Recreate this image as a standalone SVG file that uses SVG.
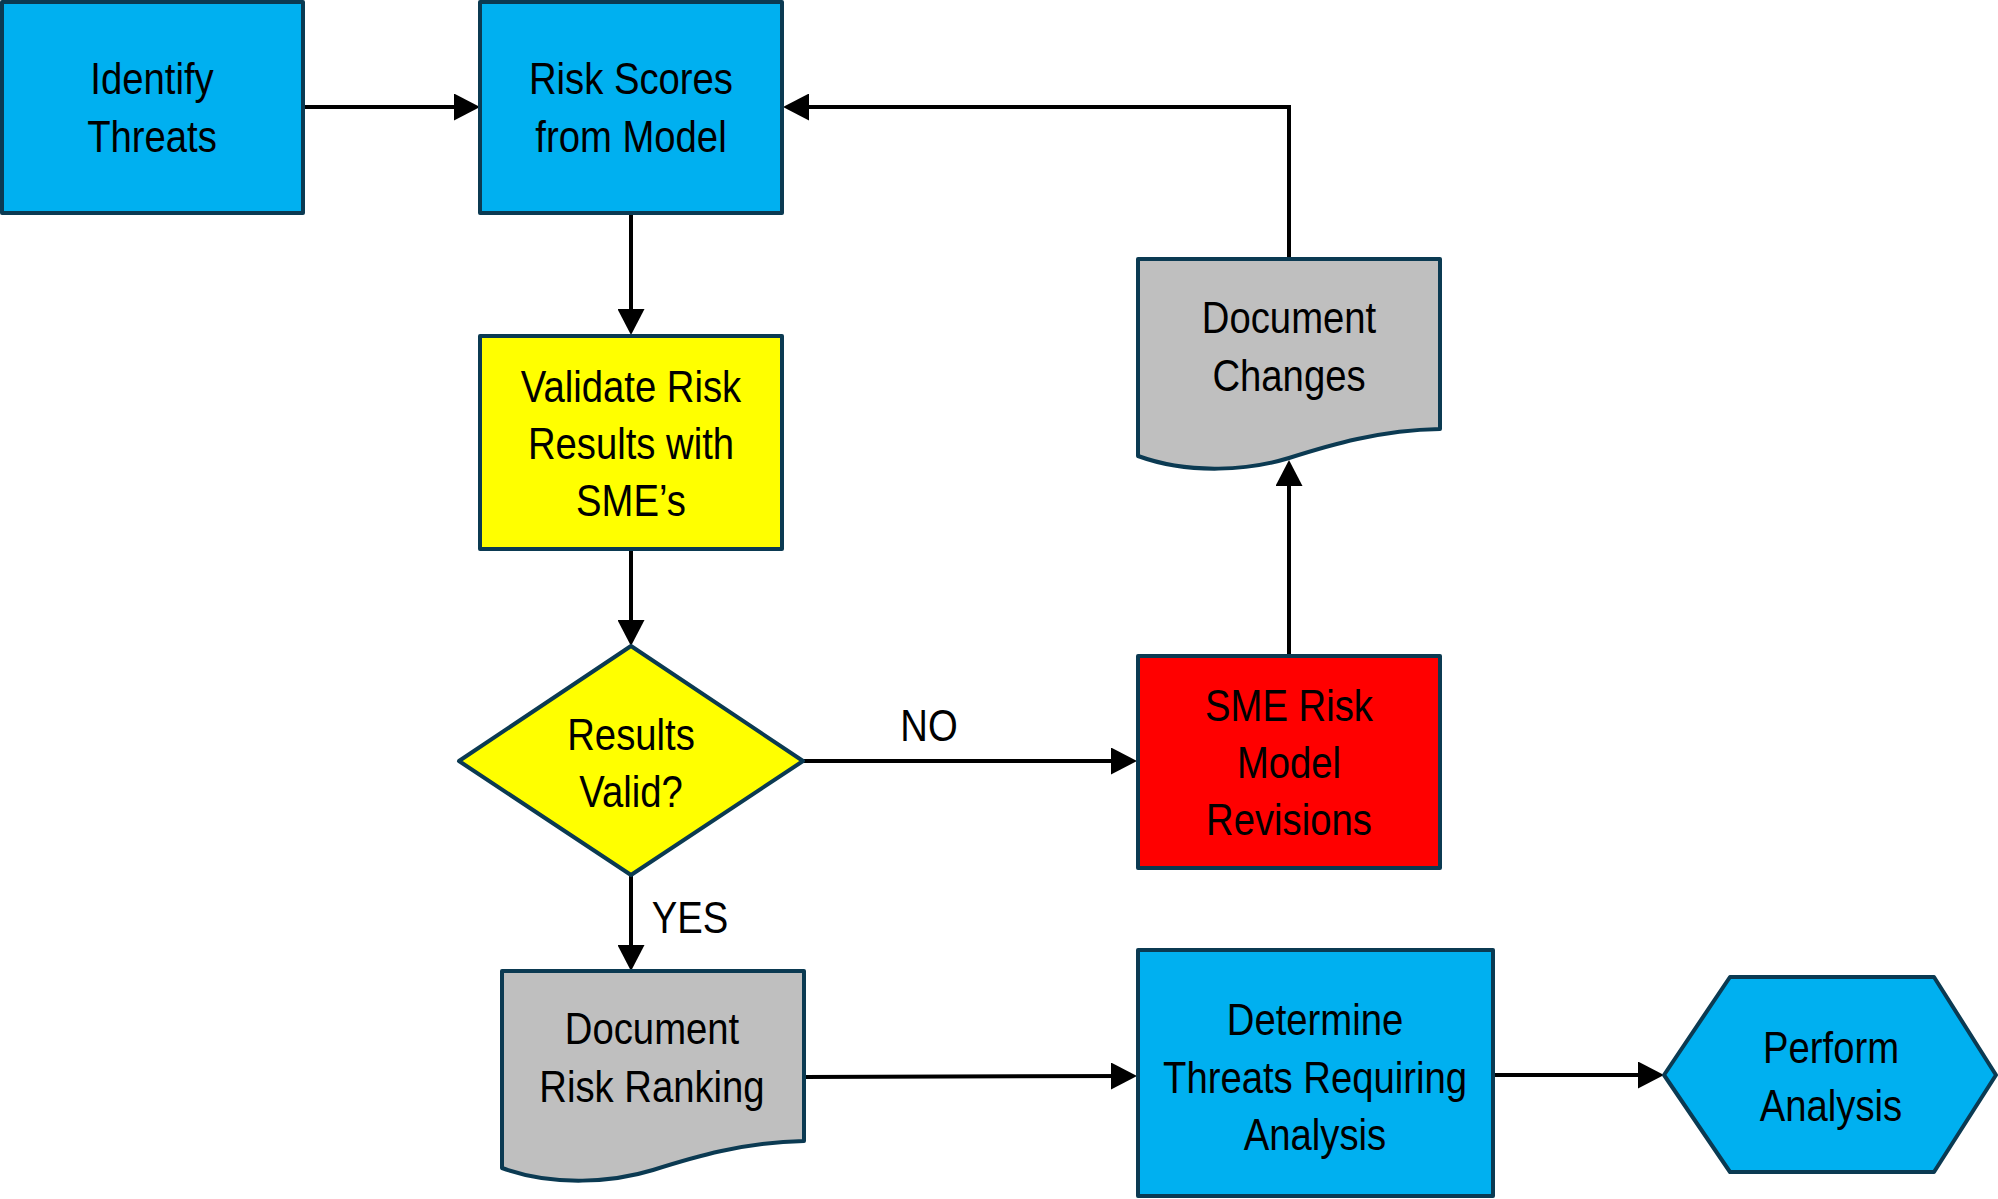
<svg xmlns="http://www.w3.org/2000/svg" width="1998" height="1199" viewBox="0 0 1998 1199">
  <style>
    .box { stroke: #0b3a52; stroke-width: 4; stroke-linejoin: round; }
    .blue { fill: #00b0f0; }
    .yellow { fill: #ffff00; }
    .red { fill: #ff0000; }
    .gray { fill: #bfbfbf; }
    .label { font-family: "Liberation Sans", Arial, sans-serif; font-size: 45px; fill: #000; text-anchor: middle; }
    .conn { fill: none; stroke: #000; stroke-width: 4; }
  </style>
  <defs>
    <marker id="arrow" viewBox="0 0 26 27" refX="16" refY="13.5" markerWidth="26" markerHeight="27" markerUnits="userSpaceOnUse" orient="auto">
      <path d="M0,0 L26,13.5 L0,27 Z" fill="#000"/>
    </marker>
    <!-- document symbol: flat top, wavy bottom edge, 302 wide -->
    <path id="doc" d="M0,0 H302 V170 C242,171 192,186 151,199 C112,211 52,216 0,197 Z"/>
  </defs>

  <rect width="1998" height="1199" fill="#fff"/>

  <g id="connectors">
    <path class="conn" d="M303,107 H470" marker-end="url(#arrow)"/>
    <path class="conn" d="M631,213 V325" marker-end="url(#arrow)"/>
    <path class="conn" d="M631,549 V636" marker-end="url(#arrow)"/>
    <path class="conn" d="M803,761 H1127" marker-end="url(#arrow)"/>
    <path class="conn" d="M1289,656 V470" marker-end="url(#arrow)"/>
    <path class="conn" d="M1289,259 V107 H793" marker-end="url(#arrow)"/>
    <path class="conn" d="M631,875 V961" marker-end="url(#arrow)"/>
    <path class="conn" d="M804,1077 L1127,1076" marker-end="url(#arrow)"/>
    <path class="conn" d="M1493,1075 H1654" marker-end="url(#arrow)"/>
    <g transform="matrix(0.85 0 0 1 929 0)"><text class="label" x="0" y="741">NO</text></g>
    <g transform="matrix(0.85 0 0 1 690 0)"><text class="label" x="0" y="933">YES</text></g>
  </g>

  <g id="identify-threats">
    <rect class="box blue" x="2" y="2" width="301" height="211"/>
    <g transform="matrix(0.85 0 0 1 152 0)">
      <text class="label" x="0" y="94">Identify</text>
      <text class="label" x="0" y="152">Threats</text>
    </g>
  </g>

  <g id="risk-scores">
    <rect class="box blue" x="480" y="2" width="302" height="211"/>
    <g transform="matrix(0.85 0 0 1 631 0)">
      <text class="label" x="0" y="94">Risk Scores</text>
      <text class="label" x="0" y="152">from Model</text>
    </g>
  </g>

  <g id="validate-results">
    <rect class="box yellow" x="480" y="336" width="302" height="213"/>
    <g transform="matrix(0.85 0 0 1 631 0)">
      <text class="label" x="0" y="402">Validate Risk</text>
      <text class="label" x="0" y="459">Results with</text>
      <text class="label" x="0" y="516">SME’s</text>
    </g>
  </g>

  <g id="results-valid">
    <polygon class="box yellow" points="631,646 803,761 631,875 459,761"/>
    <g transform="matrix(0.85 0 0 1 631 0)">
      <text class="label" x="0" y="750">Results</text>
      <text class="label" x="0" y="807">Valid?</text>
    </g>
  </g>

  <g id="sme-revisions">
    <rect class="box red" x="1138" y="656" width="302" height="212"/>
    <g transform="matrix(0.85 0 0 1 1289 0)">
      <text class="label" x="0" y="721">SME Risk</text>
      <text class="label" x="0" y="778">Model</text>
      <text class="label" x="0" y="835">Revisions</text>
    </g>
  </g>

  <g id="document-changes">
    <use href="#doc" class="box gray" transform="translate(1138 259)"/>
    <g transform="matrix(0.85 0 0 1 1289 0)">
      <text class="label" x="0" y="333">Document</text>
      <text class="label" x="0" y="391">Changes</text>
    </g>
  </g>

  <g id="document-ranking">
    <use href="#doc" class="box gray" transform="translate(502 971)"/>
    <g transform="matrix(0.85 0 0 1 652 0)">
      <text class="label" x="0" y="1044">Document</text>
      <text class="label" x="0" y="1102">Risk Ranking</text>
    </g>
  </g>

  <g id="determine-threats">
    <rect class="box blue" x="1138" y="950" width="355" height="246"/>
    <g transform="matrix(0.85 0 0 1 1315 0)">
      <text class="label" x="0" y="1035">Determine</text>
      <text class="label" x="0" y="1093">Threats Requiring</text>
      <text class="label" x="0" y="1150">Analysis</text>
    </g>
  </g>

  <g id="perform-analysis">
    <polygon class="box blue" points="1664,1075 1730,977 1934,977 1996,1075 1934,1172 1730,1172"/>
    <g transform="matrix(0.85 0 0 1 1831 0)">
      <text class="label" x="0" y="1063">Perform</text>
      <text class="label" x="0" y="1121">Analysis</text>
    </g>
  </g>
</svg>
